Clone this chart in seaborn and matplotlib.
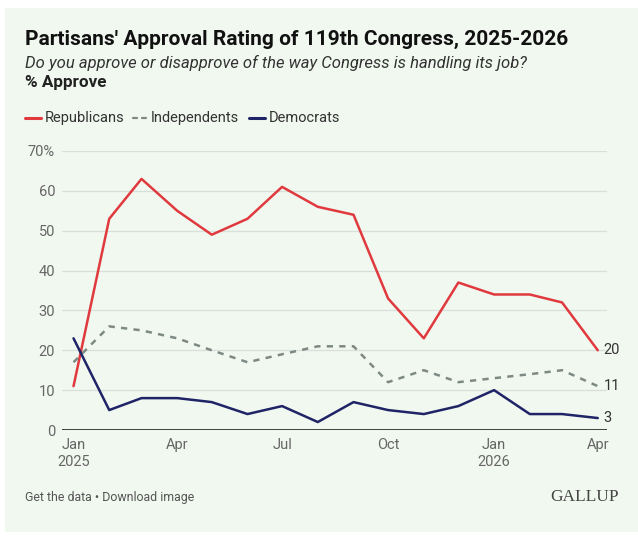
import pandas as pd
import matplotlib
matplotlib.use("Agg")
import matplotlib.pyplot as plt
import seaborn as sns

# Monthly polls, Jan 2025 - Apr 2026
months = pd.date_range("2025-01-01", "2026-04-01", freq="MS")
republicans = [11, 53, 63, 55, 49, 53, 61, 56, 54, 33, 23, 37, 34, 34, 32, 20]
independents = [17, 26, 25, 23, 20, 17, 19, 21, 21, 12, 15, 12, 13, 14, 15, 11]
democrats = [23, 5, 8, 8, 7, 4, 6, 2, 7, 5, 4, 6, 10, 4, 4, 3]

tick_dates = pd.to_datetime(["2025-01-01", "2025-04-01", "2025-07-01",
                             "2025-10-01", "2026-01-01", "2026-04-01"])
tick_labels = ["Jan\n2025", "Apr", "Jul", "Oct", "Jan\n2026", "Apr"]
y_ticks = [0, 10, 20, 30, 40, 50, 60, 70]
y_labels = ["0", "10", "20", "30", "40", "50", "60", "70%"]

df = pd.DataFrame({"date": months, "Republicans": republicans,
                   "Independents": independents, "Democrats": democrats})
long = df.melt(id_vars="date", var_name="party", value_name="pct")

bg = "#f1f8f0"
red = "#e0393e"
grey = "#7d8a83"
navy = "#1f2466"
palette = {"Republicans": red, "Independents": grey, "Democrats": navy}

sns.set_theme(style="white")
plt.rcParams["font.family"] = ["Roboto", "DejaVu Sans"]

W, H = 638, 540
fig = plt.figure(figsize=(W / 100, H / 100), dpi=100)
fig.patch.set_facecolor("white")
# light green card
fig.patches.append(plt.Rectangle((5 / W, 1 - 532 / H), 633 / W, 524 / H,
                                 transform=fig.transFigure, facecolor=bg,
                                 edgecolor="none", zorder=-1))

ax = fig.add_axes([62 / W, 1 - 430 / H, 545 / W, 279 / H])
ax.set_facecolor(bg)

sns.lineplot(data=long, x="date", y="pct", hue="party", style="party",
             palette=palette, dashes={"Republicans": "", "Independents": (2.5, 2.5),
                                      "Democrats": ""},
             linewidth=1.8, legend=False, ax=ax)

ax.set_ylim(0, 70)
ax.set_xlim(pd.Timestamp("2024-12-22"), pd.Timestamp("2026-04-09"))
ax.set_yticks(y_ticks)
ax.set_yticklabels(y_labels)
ax.set_xticks(tick_dates)
ax.set_xticklabels(tick_labels)
ax.tick_params(axis="both", length=0, labelsize=10.5, labelcolor="#666666")
ax.tick_params(axis="x", pad=6)
ax.tick_params(axis="y", pad=5)
for y in y_ticks[1:]:
    ax.axhline(y, color="#d9dfd9", linewidth=0.9, zorder=0)
ax.axhline(0, color="#222222", linewidth=1.2, zorder=3)
for s in ax.spines.values():
    s.set_visible(False)
ax.set_xlabel("")
ax.set_ylabel("")

# end labels
last = months[-1]
for vals in (republicans, independents, democrats):
    ax.annotate(str(vals[-1]), xy=(last, vals[-1]), xytext=(4, 0),
                textcoords="offset points", va="center", ha="left",
                fontsize=10.5, color="#333333", annotation_clip=False)

# titles
fig.text(25 / W, 1 - 39 / H, "Partisans' Approval Rating of 119th Congress, 2025-2026",
         fontsize=15, fontweight="bold", color="#111111", va="center")
fig.text(25 / W, 1 - 63 / H, "Do you approve or disapprove of the way Congress is handling its job?",
         fontsize=12, style="italic", color="#333333", va="center")
fig.text(25 / W, 1 - 83 / H, "% Approve", fontsize=12.3, fontweight="bold",
         color="#222222", va="center")

# legend
ly = 1 - 118 / H
items = [(25, 41, 45, "Republicans", red, "-"),
         (133, 146, 151, "Independents", grey, "--"),
         (249, 265, 269, "Democrats", navy, "-")]
for x0, x1, tx, label, col, ls in items:
    if ls == "--":
        for seg in ((x0, x0 + 4), (x0 + 9, x0 + 13)):
            fig.add_artist(plt.Line2D([seg[0] / W, seg[1] / W], [ly, ly], color=col, lw=1.6,
                                      transform=fig.transFigure))
    else:
        fig.add_artist(plt.Line2D([x0 / W, x1 / W], [ly, ly], color=col, lw=2.2,
                                  transform=fig.transFigure))
    fig.text(tx / W, ly, label, fontsize=10.5, color="#333333", va="center")

# footer
fig.text(25 / W, 1 - 497 / H, "Get the data \u2022 Download image", fontsize=8.9,
         color="#555555", va="center")
fig.text(619 / W, 1 - 497 / H, "GALLUP", fontsize=12.5, family="Liberation Serif",
         color="#444444", va="center", ha="right")

fig.savefig("out.png", dpi=100, facecolor=fig.get_facecolor())
